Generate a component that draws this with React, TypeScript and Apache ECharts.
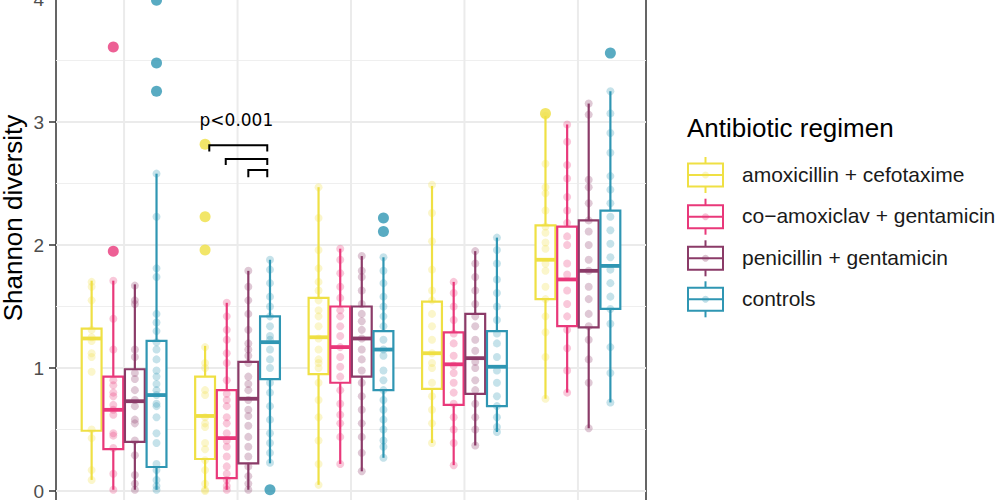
import React, { useEffect, useRef } from 'react';
import * as echarts from 'echarts';

const groups = [1, 2, 3, 4, 5];
const regimens = ['amoxicillin + cefotaxime', 'co\u2212amoxiclav + gentamicin', 'penicillin + gentamicin', 'controls'];
const colors = ['#EFE044', '#E9387A', '#8B3B68', '#2F96B3'];

// box stats per group: [lower whisker, q1, median, q3, upper whisker]
const amoxCefBox = [
  [0.09, 0.49, 1.24, 1.32, 1.71],
  [0.02, 0.26, 0.61, 0.93, 1.18],
  [0.05, 0.95, 1.25, 1.57, 2.47],
  [0.39, 0.83, 1.12, 1.54, 2.48],
  [0.75, 1.56, 1.88, 2.16, 3.05],
];
const coAmoxBox = [
  [0.01, 0.34, 0.66, 0.93, 1.71],
  [0.01, 0.105, 0.43, 0.82, 1.53],
  [0.22, 0.88, 1.17, 1.5, 1.97],
  [0.21, 0.7, 1.03, 1.29, 1.7],
  [0.8, 1.34, 1.72, 2.15, 2.98],
];
const penGentBox = [
  [0.01, 0.4, 0.73, 0.99, 1.68],
  [0.01, 0.225, 0.75, 1.05, 1.79],
  [0.16, 0.93, 1.24, 1.5, 1.91],
  [0.37, 0.79, 1.08, 1.44, 1.95],
  [0.51, 1.33, 1.79, 2.2, 3.15],
];
const controlsBox = [
  [0.01, 0.195, 0.78, 1.22, 2.58],
  [0.225, 0.91, 1.21, 1.42, 1.88],
  [0.27, 0.82, 1.15, 1.3, 1.9],
  [0.48, 0.69, 1.01, 1.3, 2.06],
  [0.72, 1.48, 1.83, 2.28, 3.25],
];

// outliers per group
const amoxCefOut = [[], [1.96, 2.23, 2.82], [], [], [3.07]];
const coAmoxOut = [[1.95, 3.61], [], [], [], []];
const penGentOut = [[], [], [], [], []];
const controlsOut = [[3.25, 3.48, 3.99], [0.01], [2.11, 2.22], [], [3.56]];

// individual observations per group
const amoxCefPts = [
  [1.7, 1.66, 1.55, 1.31, 1.25, 1.22, 1.12, 1.09, 0.97, 0.5, 0.43, 0.17, 0.09],
  [1.17, 1.04, 1.0, 0.82, 0.78, 0.6, 0.55, 0.52, 0.39, 0.34, 0.25, 0.17, 0.06, 0.01, 0.0],
  [2.47, 2.22, 1.96, 1.81, 1.7, 1.63, 1.55, 1.47, 1.42, 1.34, 1.24, 1.15, 1.07, 1.04, 1.0, 0.88, 0.74, 0.6, 0.41, 0.22, 0.05],
  [2.49, 2.26, 2.03, 1.8, 1.63, 1.55, 1.44, 1.34, 1.23, 1.12, 1.04, 1.0, 0.88, 0.77, 0.66, 0.55, 0.39],
  [3.05, 2.66, 2.47, 2.42, 2.28, 2.15, 2.1, 2.02, 1.97, 1.85, 1.79, 1.66, 1.56, 1.42, 1.29, 1.09, 0.75],
];
const coAmoxPts = [
  [1.71, 1.4, 1.15, 0.9, 0.86, 0.8, 0.77, 0.7, 0.66, 0.62, 0.47, 0.45, 0.35, 0.14, 0.01],
  [1.53, 1.42, 1.31, 1.23, 1.12, 1.04, 0.9, 0.79, 0.74, 0.69, 0.6, 0.55, 0.47, 0.41, 0.36, 0.28, 0.2, 0.14, 0.09, 0.04, 0.01],
  [1.97, 1.88, 1.77, 1.66, 1.57, 1.47, 1.42, 1.34, 1.26, 1.17, 1.09, 1.01, 0.93, 0.82, 0.71, 0.62, 0.55, 0.44, 0.22],
  [1.7, 1.61, 1.5, 1.39, 1.28, 1.2, 1.1, 1.02, 0.96, 0.88, 0.8, 0.71, 0.6, 0.5, 0.39, 0.21],
  [2.98, 2.84, 2.65, 2.54, 2.39, 2.28, 2.18, 2.07, 2.0, 1.85, 1.76, 1.63, 1.52, 1.42, 1.31, 1.16, 0.98, 0.8],
];
const penGentPts = [
  [1.67, 1.55, 1.52, 1.15, 1.09, 0.96, 0.91, 0.82, 0.74, 0.69, 0.58, 0.55, 0.41, 0.29, 0.13, 0.06, 0.01],
  [1.79, 1.66, 1.55, 1.44, 1.31, 1.2, 1.15, 1.1, 1.04, 0.93, 0.87, 0.82, 0.74, 0.66, 0.61, 0.53, 0.44, 0.36, 0.28, 0.2, 0.12, 0.06, 0.01],
  [1.91, 1.79, 1.74, 1.63, 1.52, 1.44, 1.38, 1.31, 1.24, 1.15, 1.07, 0.98, 0.88, 0.77, 0.66, 0.55, 0.44, 0.31, 0.16],
  [1.95, 1.85, 1.74, 1.63, 1.52, 1.42, 1.34, 1.23, 1.14, 1.05, 1.0, 0.9, 0.82, 0.71, 0.6, 0.5, 0.37],
  [3.15, 3.06, 2.53, 2.47, 2.34, 2.2, 2.11, 2.0, 1.88, 1.79, 1.66, 1.56, 1.44, 1.34, 1.23, 1.07, 0.88, 0.51],
];
const controlsPts = [
  [2.58, 2.23, 1.81, 1.74, 1.44, 1.37, 1.3, 1.21, 1.15, 1.07, 0.98, 0.93, 0.87, 0.82, 0.78, 0.71, 0.69, 0.6, 0.47, 0.39, 0.22, 0.17, 0.09, 0.04, 0.01],
  [1.88, 1.8, 1.69, 1.58, 1.5, 1.42, 1.34, 1.26, 1.23, 1.15, 1.07, 1.0, 0.88, 0.8, 0.69, 0.58, 0.47, 0.39, 0.31, 0.23],
  [1.9, 1.79, 1.69, 1.58, 1.5, 1.42, 1.34, 1.23, 1.15, 1.1, 0.98, 0.9, 0.82, 0.74, 0.66, 0.58, 0.5, 0.41, 0.36, 0.27],
  [2.06, 1.96, 1.85, 1.72, 1.61, 1.5, 1.39, 1.28, 1.2, 1.09, 0.98, 0.88, 0.77, 0.69, 0.6, 0.52, 0.48],
  [3.25, 3.07, 2.91, 2.75, 2.56, 2.45, 2.34, 2.23, 2.12, 2.01, 1.9, 1.8, 1.69, 1.58, 1.48, 1.36, 1.17, 0.96, 0.72],
];

const yTicks = [0, 1, 2, 3, 4];

// significance brackets: [x left, x right, y top, y leg end]
const sigBrackets = [
  [1.751, 2.262, 2.81, 2.76],
  [1.896, 2.262, 2.7, 2.65],
  [2.095, 2.262, 2.61, 2.55],
];
const sigLabels = [[1.99, 2.95, 'p<0.001']];

const boxStats = [amoxCefBox, coAmoxBox, penGentBox, controlsBox];
const outliers = [amoxCefOut, coAmoxOut, penGentOut, controlsOut];
const points = [amoxCefPts, coAmoxPts, penGentPts, controlsPts];

const DODGE = [-0.286, -0.095, 0.095, 0.286];
const BOX_W = 0.175;
const FONT = '"Liberation Sans", Arial, Helvetica, sans-serif';

// the chart canvas is taller than the page and shifted up, so the panel runs past both edges
const OFF = 134;
const CHART_H = 758;

function hexA(hex: string, a: number) {
  const r = parseInt(hex.slice(1, 3), 16);
  const g = parseInt(hex.slice(3, 5), 16);
  const b = parseInt(hex.slice(5, 7), 16);
  return `rgba(${r},${g},${b},${a})`;
}

function buildOption() {
  const series: any[] = [];

  series.push({
    type: 'custom',
    z: 0,
    silent: true,
    data: groups.map((g) => [g, 0]),
    renderItem: (params: any, api: any) => {
      const cs = params.coordSys;
      const p = api.coord([api.value(0), 0]);
      return {
        type: 'line',
        shape: { x1: p[0], y1: cs.y, x2: p[0], y2: cs.y + cs.height },
        style: { stroke: '#EBEBEB', lineWidth: 2 },
      };
    },
  });

  regimens.forEach((name, r) => {
    const color = colors[r];
    const off = DODGE[r];
    series.push({
      type: 'custom',
      name,
      z: 2,
      silent: true,
      data: boxStats[r].map((s, i) => [groups[i], ...s]),
      encode: { x: 0, y: [1, 2, 3, 4, 5] },
      renderItem: (params: any, api: any) => {
        const xc = api.value(0) + off;
        const lo = api.value(1), q1 = api.value(2), md = api.value(3), q3 = api.value(4), hi = api.value(5);
        const tl = api.coord([xc - BOX_W / 2, q3]);
        const br = api.coord([xc + BOX_W / 2, q1]);
        const pHi = api.coord([xc, hi]);
        const pLo = api.coord([xc, lo]);
        const pMd = api.coord([xc, md]);
        return {
          type: 'group',
          children: [
            { type: 'line', shape: { x1: pHi[0], y1: pHi[1], x2: pHi[0], y2: tl[1] }, style: { stroke: color, lineWidth: 2.2 } },
            { type: 'line', shape: { x1: pLo[0], y1: br[1], x2: pLo[0], y2: pLo[1] }, style: { stroke: color, lineWidth: 2.2 } },
            { type: 'rect', shape: { x: tl[0], y: tl[1], width: br[0] - tl[0], height: br[1] - tl[1] }, style: { fill: '#ffffff', stroke: color, lineWidth: 2.2 } },
            { type: 'line', shape: { x1: tl[0], y1: pMd[1], x2: br[0], y2: pMd[1] }, style: { stroke: color, lineWidth: 3.8 } },
          ],
        };
      },
    });
  });

  regimens.forEach((name, r) => {
    const data: number[][] = [];
    points[r].forEach((vals, i) => vals.forEach((v) => data.push([groups[i] + DODGE[r], v])));
    series.push({
      type: 'scatter',
      name: name + ' points',
      z: 3,
      silent: true,
      symbol: 'circle',
      symbolSize: 8,
      itemStyle: { color: hexA(colors[r], 0.35) },
      data,
    });
  });

  regimens.forEach((name, r) => {
    const data: number[][] = [];
    outliers[r].forEach((vals, i) => vals.forEach((v) => data.push([groups[i] + DODGE[r], v])));
    series.push({
      type: 'scatter',
      name: name + ' outliers',
      z: 4,
      silent: true,
      clip: false,
      symbol: 'circle',
      symbolSize: 11,
      itemStyle: { color: colors[r] },
      data,
    });
  });

  series.push({
    type: 'custom',
    z: 5,
    silent: true,
    data: sigBrackets,
    encode: { x: [0, 1], y: [2, 3] },
    renderItem: (params: any, api: any) => {
      const a = api.coord([api.value(0), api.value(3)]);
      const b = api.coord([api.value(0), api.value(2)]);
      const c = api.coord([api.value(1), api.value(2)]);
      const d = api.coord([api.value(1), api.value(3)]);
      return {
        type: 'polyline',
        shape: { points: [a, b, c, d] },
        style: { stroke: '#000', lineWidth: 2, fill: null },
      };
    },
  });

  series.push({
    type: 'custom',
    z: 5,
    silent: true,
    data: sigLabels,
    encode: { x: 0, y: 1 },
    renderItem: (params: any, api: any) => {
      const p = api.coord([api.value(0), api.value(1)]);
      return {
        type: 'text',
        style: {
          text: sigLabels[params.dataIndex][2],
          x: p[0],
          y: p[1],
          align: 'center',
          verticalAlign: 'bottom',
          font: '17px "DejaVu Sans", sans-serif',
          fill: '#000',
        },
      };
    },
  });

  const graphic: any[] = [];
  graphic.push({
    type: 'text',
    x: 13,
    y: 218 + OFF,
    rotation: Math.PI / 2,
    style: { text: 'Shannon diversity', x: 0, y: 0, align: 'center', verticalAlign: 'middle', font: `26px ${FONT}`, fill: '#000' },
  });
  graphic.push({
    type: 'text',
    style: { text: 'Antibiotic regimen', x: 687, y: 128 + OFF, align: 'left', verticalAlign: 'middle', font: `26px ${FONT}`, fill: '#000' },
  });
  const rows = [175, 216.7, 258.3, 299.3];
  regimens.forEach((name, r) => {
    const cy = rows[r] + OFF;
    const c = colors[r];
    graphic.push({ type: 'line', shape: { x1: 705.5, y1: cy - 18, x2: 705.5, y2: cy - 11.5 }, style: { stroke: c, lineWidth: 2 } });
    graphic.push({ type: 'line', shape: { x1: 705.5, y1: cy + 11.5, x2: 705.5, y2: cy + 18 }, style: { stroke: c, lineWidth: 2 } });
    graphic.push({ type: 'rect', shape: { x: 688, y: cy - 11.5, width: 35, height: 23 }, style: { fill: '#fff', stroke: c, lineWidth: 2 } });
    graphic.push({ type: 'line', shape: { x1: 688, y1: cy, x2: 723, y2: cy }, style: { stroke: c, lineWidth: 2 } });
    graphic.push({ type: 'circle', shape: { cx: 705.5, cy, r: 3.5 }, style: { fill: hexA(c, 0.3) } });
    graphic.push({
      type: 'text',
      style: { text: name, x: 742, y: cy - 1, align: 'left', verticalAlign: 'middle', font: `21px ${FONT}`, fill: '#1a1a1a' },
    });
  });

  return {
    animation: false,
    backgroundColor: '#ffffff',
    grid: {
      left: 56,
      width: 590,
      top: 491 + OFF - 5 * 123,
      height: 6 * 123,
      show: true,
      borderColor: '#333333',
      borderWidth: 1.5,
      backgroundColor: 'transparent',
    },
    xAxis: {
      type: 'value',
      min: 0.4,
      max: 5.6,
      axisLine: { show: false },
      axisTick: { show: false },
      axisLabel: { show: false },
      splitLine: { show: false },
    },
    yAxis: {
      type: 'value',
      min: -1,
      max: 5,
      interval: 1,
      axisLine: { show: false },
      axisTick: { show: true, length: 7, lineStyle: { color: '#333333', width: 1.5 } },
      axisLabel: {
        color: '#4D4D4D',
        fontSize: 19,
        fontFamily: FONT,
        margin: 12,
        formatter: (v: number) => (yTicks.indexOf(v) >= 0 ? String(v) : ''),
      },
      splitLine: { show: true, lineStyle: { color: '#EBEBEB', width: 2 } },
      minorTick: { show: false, splitNumber: 2 },
      minorSplitLine: { show: true, lineStyle: { color: '#EFEFEF', width: 1.2 } },
    },
    graphic,
    series,
  };
}

export default function App() {
  const ref = useRef<HTMLDivElement>(null);
  useEffect(() => {
    if (!ref.current) return;
    const chart = echarts.init(ref.current, null, { renderer: 'svg' });
    chart.setOption(buildOption() as any);
    return () => chart.dispose();
  }, []);
  return (
    <div style={{ position: 'absolute', left: 0, top: 0, width: 1000, height: 500, overflow: 'hidden', background: '#fff' }}>
      <div ref={ref} style={{ position: 'absolute', left: 0, top: -OFF, width: 1000, height: CHART_H }} />
    </div>
  );
}
